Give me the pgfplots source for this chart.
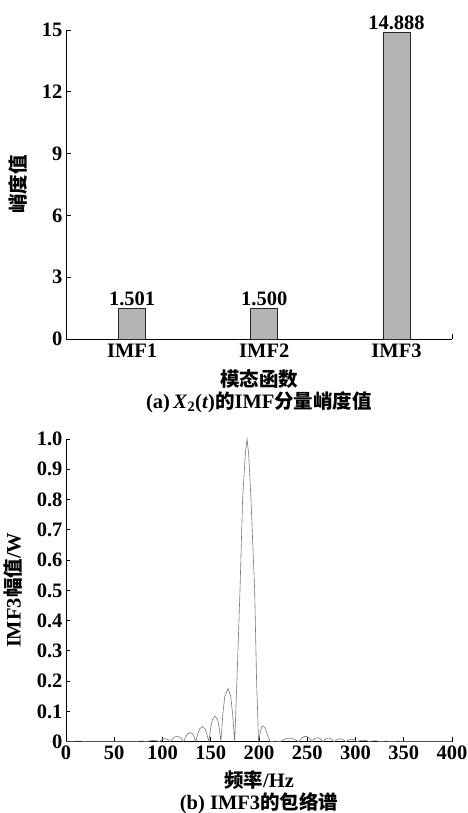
\documentclass[border=0pt]{standalone}
\usepackage{pgfplots}
\pgfplotsset{compat=1.18}
\usepackage{fontspec}
\setmainfont{Liberation Serif}
\newfontfamily\cjk{Noto Sans CJK SC}
\newcommand\zh[1]{{\cjk\bfseries\fontsize{19.5}{21}\selectfont #1}}
\newcommand\fs{\fontsize{20.5}{22}\selectfont\bfseries}
\definecolor{barfill}{HTML}{B4B4B4}
\definecolor{linecol}{HTML}{7A7A7A}
\pgfplotsset{
  common/.style={
    scale only axis, width=386pt,
    axis x line=bottom, axis y line=left,
    axis line style={-, line width=0.9pt},
    tick align=inside, major tick length=4.5pt,
    tick style={line width=0.8pt, black},
    ticklabel style={font=\fs},
    /pgf/number format/assume math mode=true,
    label style={font=\fs},
    clip=false,
  }
}
\begin{document}
\begin{tikzpicture}
\useasboundingbox (0pt,0pt) rectangle (468pt,813pt);
\begin{axis}[common,
  at={(66pt,474pt)}, anchor=south west, height=309pt,
  xmin=0.5, xmax=3.42, ymin=0, ymax=15,
  ytick={0,3,6,9,12,15},
  xtick={1,2,3}, xticklabels={IMF1,IMF2,IMF3},
  xtick style={draw=none},
  xticklabel style={yshift=-1pt},
  xlabel={\zh{模态函数}},
  xlabel style={at={(axis description cs:0.5,-0.129)}, anchor=center},
  ylabel={\zh{峭度值}},
  ylabel style={at={(axis description cs:-0.124,0.5)}, anchor=center},
]
\addplot[ybar, bar width=27pt, fill=barfill, draw=black!85, line width=0.7pt,
  nodes near coords, point meta=explicit symbolic,
  every node near coord/.append style={font=\fs, inner sep=2pt}]
  coordinates {(1,1.501)[1.501] (2,1.500)[1.500] (3,14.888)[14.888]};
\draw[line width=0.8pt] (axis cs:3.42,0) -- (axis cs:3.42,0.22);
\node[font=\fs] at (axis description cs:0.5,-0.204)
  {(a)\,\textit{X}\textsubscript{2}(\textit{t})\zh{的}IMF\zh{分量峭度值}};
\end{axis}

\begin{axis}[common,
  at={(66pt,71.3pt)}, anchor=south west, height=302.7pt,
  xmin=0, xmax=400, ymin=0, ymax=1.0,
  xtick={0,50,100,150,200,250,300,350,400},
  ytick={0,0.1,0.2,0.3,0.4,0.5,0.6,0.7,0.8,0.9,1.0},
  yticklabels={0,0.1,0.2,0.3,0.4,0.5,0.6,0.7,0.8,0.9,1.0},
  xticklabel style={yshift=-1pt},
  xlabel={\zh{频率}/Hz},
  xlabel style={at={(axis description cs:0.5,-0.127)}, anchor=center},
  ylabel={IMF3\zh{幅值}/W},
  ylabel style={at={(axis description cs:-0.137,0.5)}, anchor=center},
]
\addplot[color=linecol, line width=0.6pt] coordinates {
(0,0.001) (3,0.002) (6,0.001) (10,0.002) (15,0.002) (20,0) (70,0)
(72,0) (75,0.0015) (78,0.002) (81,0.0015) (84,0)
(84,0) (87,0.003) (90,0.004) (94,0.003) (97,0)
(97,0) (98.65,0.005) (100.3,0.0085) (102.5,0.01) (104.7,0.0085) (106.35,0.005) (108,0)
(110.1,0.009) (112.2,0.015) (115,0.018) (117.8,0.015) (119.9,0.009) (122,0)
(123.95,0.015) (125.9,0.026) (128.5,0.03) (131.1,0.026) (133.05,0.015) (134.5,0)
(136.5,0.025) (138.6,0.043) (141.3,0.05) (144,0.043) (146,0.025) (148,0)
(149.8,0.043) (151.6,0.072) (154.6,0.085) (157.2,0.072) (158.9,0.043) (160.5,0)
(162.5,0.09) (164.5,0.15) (168,0.176) (170.7,0.15) (172.7,0.09) (174.8,0)
(177.1,0.2) (180.3,0.5) (183,0.8) (185.8,0.95) (187.6,1.0) (189.3,0.95)
(191.7,0.8) (195.5,0.5) (197.5,0.2) (199.6,0)
(201.2,0.03) (202.7,0.047) (204.3,0.052) (206.5,0.045) (209,0.02) (211.7,0)
(217,0.002) (222,0)
(225,0.006) (228,0.010) (232,0.012) (236,0.009) (239,0.004) (241,0)
(243.5,0.009) (246,0.016) (248.5,0.018) (251,0.015) (253,0.008) (255,0)
(256.5,0.006) (258,0.011) (260.5,0.013) (263,0.011) (264.5,0.006) (266,0)
(268,0.006) (269.5,0.010) (272,0.012) (274.5,0.010) (276,0.006) (278,0)
(280,0.005) (281.5,0.008) (284,0.010) (286.5,0.008) (288,0.005) (290,0)
(292,0.004) (293.5,0.007) (296,0.008) (298.5,0.007) (300,0.004) (302,0)
(305,0.004) (308,0.005) (311,0.004) (314,0)
(317,0.002) (320,0.003) (323,0.002) (326,0)
(329,0.001) (332,0.002) (335,0.001) (338,0)
(341,0.001) (344,0.002) (347,0.001) (350,0) (400,0)
};
\node[font=\fs] at (axis description cs:0.5,-0.202)
  {(b) IMF3\zh{的包络谱}};
\end{axis}
\end{tikzpicture}
\end{document}
